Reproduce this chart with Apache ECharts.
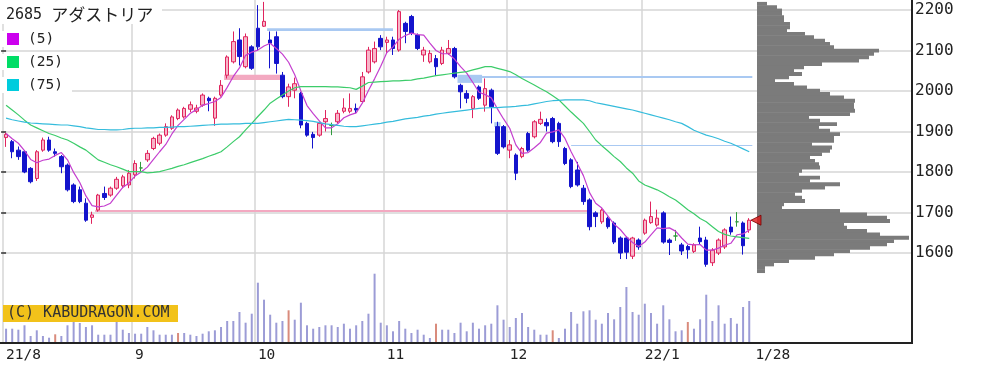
<!DOCTYPE html>
<html><head><meta charset="utf-8">
<script src="https://cdn.jsdelivr.net/npm/echarts@6/dist/echarts.min.js"></script>
<style>html,body{margin:0;padding:0;background:#fff}#c{width:981px;height:366px}</style>
</head><body><div id="c"></div><script>
// ---- trading days ----
const aug = [2,3,4,5,6,10,11,12,13,16,17,18,19,20,23,24,25,26,27,30,31];
const sep = [1,2,3,6,7,8,9,10,13,14,15,16,17,21,22,24,27,28,29,30];
const oct = [1,4,5,6,7,8,11,12,13,14,15,18,19,20,21,22,25,26,27,28,29];
const nov = [1,2,4,5,8,9,10,11,12,15,16,17,18,19,22,24,25,26,29,30];
const dec = [1,2,3,6,7,8,9,10,13,14,15,16,17,20,21,22,23,24,27,28,29,30];
const jan = [4,5,6,7,11,12,13,14,17,18,19,20,21,24,25,26,27,28];
const monthLabels = ['21/8','9','10','11','12','22/1'];
const endLabel = '1/28';

// ---- OHLC ----
const open = [1885,1875,1854,1850,1809,1784,1854,1879,1850,1838, 1817,1768,1756,1723,1688,1706,1747,1743,1760,1766, 1768,1793,1810,1830,1858,1871,1891,1908,1932,1936, 1955,1950,1965,1982,1933,1990,2039,2072,2126,2060, 2109,2155,2160,2126,2134,2039,1986,2002,1994,1920, 1893,1891,1924,1915,1924,1950,1950,1957,1974,2047, 2072,2130,2120,2126,2101,2167,2184,2138,2089,2072, 2080,2068,2093,2105,2014,1994,1957,2010,1965,2002, 1912,1912,1854,1842,1838,1895,1887,1920,1922,1932, 1920,1858,1830,1805,1760,1731,1699,1677,1686,1674, 1637,1637,1592,1632,1649,1675,1669,1699,1632,1642, 1620,1616,1604,1637,1632,1576,1600,1615,1664,1677, 1674,1657];
const close = [1893,1850,1838,1800,1776,1850,1879,1854,1846,1813, 1756,1727,1727,1681,1694,1743,1737,1760,1782,1788, 1797,1821,1810,1846,1883,1891,1912,1936,1953,1957, 1966,1958,1990,1976,1982,2014,2084,2122,2085,2134, 2056,2109,2172,2118,2068,1986,2010,2018,1916,1891, 1885,1920,1932,1915,1945,1958,1957,1953,2035,2101, 2105,2109,2126,2105,2196,2147,2142,2105,2101,2093, 2060,2101,2105,2035,1998,1982,1986,1982,2006,1961, 1846,1862,1867,1797,1858,1854,1924,1930,1914,1875, 1875,1821,1764,1768,1727,1665,1690,1706,1665,1627, 1600,1602,1637,1615,1681,1690,1686,1627,1626,1642, 1605,1608,1620,1628,1572,1607,1632,1657,1652,1677, 1618,1681];
const low = [1862,1834,1830,1797,1772,1778,1850,1850,1838,1797, 1752,1723,1723,1677,1672,1702,1731,1739,1756,1760, 1760,1784,1800,1825,1854,1866,1887,1904,1928,1932, 1948,1945,1961,1950,1914,1986,2031,2068,2063,2056, 2052,2100,2158,2056,2043,1982,1961,1982,1908,1887, 1858,1887,1900,1891,1920,1945,1945,1945,1970,2043, 2068,2101,2093,2089,2097,2118,2138,2101,2072,2068, 2039,2064,2089,2031,1957,1970,1933,1978,1949,1920, 1842,1858,1834,1780,1834,1850,1883,1916,1900,1871, 1862,1817,1760,1764,1719,1656,1664,1672,1660,1622, 1585,1585,1585,1608,1645,1672,1665,1623,1595,1630, 1595,1586,1600,1622,1566,1568,1595,1610,1645,1665, 1596,1650];
const high = [1897,1879,1863,1854,1812,1854,1885,1887,1858,1842, 1821,1772,1764,1735,1702,1746,1764,1764,1788,1793, 1805,1829,1825,1854,1887,1895,1920,1940,1957,1961, 1974,1966,1994,1986,1986,2027,2088,2147,2155,2142, 2113,2212,2220,2147,2147,2047,2018,2033,1998,1924, 1899,1924,1953,1922,1953,1982,1994,1969,2047,2109, 2122,2138,2134,2134,2200,2171,2188,2142,2109,2101, 2089,2109,2126,2109,2018,2002,1990,2014,2031,2006, 1924,1916,1879,1846,1862,1899,1928,1949,1932,1936, 1924,1862,1834,1825,1768,1735,1703,1710,1690,1678, 1641,1641,1640,1636,1685,1727,1707,1703,1636,1657, 1625,1620,1624,1665,1640,1612,1636,1661,1690,1701, 1678,1686];

// ---- moving averages ----
const ma5 = [1895,1882,1871,1853,1831,1823,1829,1832,1841,1848, 1830,1799,1774,1741,1717,1714,1716,1723,1743,1762, 1773,1790,1800,1812,1831,1850,1868,1894,1915,1930, 1945,1954,1965,1969,1974,1984,2009,2036,2057,2088, 2096,2101,2111,2118,2105,2091,2071,2040,2000,1964, 1944,1926,1909,1909,1919,1934,1941,1946,1970,2001, 2030,2061,2095,2109,2128,2137,2143,2139,2138,2118, 2100,2092,2092,2079,2060,2044,2021,1997,1991,1983, 1956,1931,1908,1867,1846,1848,1860,1873,1896,1899, 1904,1883,1850,1821,1791,1749,1723,1711,1691,1671, 1658,1640,1626,1616,1627,1645,1662,1660,1662,1654, 1637,1622,1620,1621,1607,1607,1612,1619,1624,1645, 1647,1657];
const ma25 = [1965,1953,1941,1928,1916,1909,1902,1895,1890,1884, 1879,1871,1862,1854,1842,1830,1824,1818,1813,1807, 1801,1801,1801,1798,1799,1801,1805,1809,1814,1818, 1823,1828,1833,1839,1844,1850,1862,1875,1887,1904, 1920,1937,1953,1970,1980,1990,2000,2008,2011,2011, 2011,2011,2011,2010,2010,2009,2008,2004,2012,2021, 2022,2023,2024,2025,2025,2026,2027,2030,2032,2035, 2038,2040,2042,2044,2046,2048,2052,2056,2060,2060, 2056,2052,2048,2040,2031,2023,2015,2006,1998,1988, 1978,1963,1948,1934,1920,1900,1879,1865,1852,1838, 1826,1810,1797,1778,1768,1762,1756,1748,1739,1731, 1719,1707,1697,1685,1677,1665,1653,1646,1642,1640, 1638,1636];
const ma75 = [1933,1929,1926,1923,1921,1920,1919,1918,1917,1916, 1916,1914,1912,1909,1907,1905,1905,1904,1904,1905, 1907,1908,1908,1909,1909,1910,1910,1911,1912,1912, 1913,1914,1915,1916,1917,1918,1918,1919,1919,1920, 1920,1920,1922,1924,1926,1928,1930,1929,1928,1927, 1925,1922,1919,1917,1915,1913,1912,1912,1914,1916, 1918,1920,1923,1925,1928,1931,1933,1935,1938,1940, 1943,1945,1947,1949,1951,1953,1955,1957,1958,1959, 1959,1960,1961,1962,1964,1965,1968,1971,1974,1976, 1977,1978,1978,1978,1978,1976,1971,1968,1965,1962, 1959,1956,1953,1949,1945,1941,1937,1933,1929,1924, 1920,1912,1903,1897,1891,1887,1882,1876,1871,1864, 1857,1850];

// ---- volume ----
const volume = [14300,14300,13300,17700,7000,12700,7000,5300,8700,7000, 17700,21000,20000,16000,17700,8300,8300,8300,21000,13300, 10000,9300,9300,16000,12700,8300,8300,8300,10000,10000, 8300,7000,9300,11700,12700,16000,22000,22000,31000,20300, 29300,60300,43300,28300,20300,22000,32700,23300,40300,17700, 14300,16000,17700,17700,16000,19300,14300,17700,22000,29300, 69300,20300,17700,11700,22000,14300,10000,13300,8300,5000, 19300,13300,13300,10000,20300,11700,20300,14300,17700,19300, 37700,23300,16000,25000,30000,16000,13300,8300,8300,12700, 5000,14300,31000,19300,31700,32700,23300,19300,30000,23700, 36000,56000,31000,28300,39300,30000,19300,37700,23700,11700, 12700,21000,14300,23700,48300,22000,37700,19300,25000,19300, 36000,42000];
const sqDays = [8,28,46,70,89,111];

// ---- price-band volume profile ----
const profileTop = 2220;
const profileStep = 8.25;
const profileVol = [10,20,25,25,27,27,33,33,30,48, 57,68,73,77,122,117,112,102,65,47, 37,45,32,18,37,50,63,73,87,98, 97,97,98,93,52,63,80,62,73,83, 77,77,55,75,73,65,53,58,62,63, 45,42,63,53,83,68,45,38,45,48, 27,25,83,110,130,133,87,90,110,123, 152,137,130,113,93,77,58,32,17,8, 8];

// ---- gap (window) zones: [fromIdx, toIdx, priceLow, priceHigh] ----
const gapUp = [[35.5,44.6,2027,2040],[14.5,95,1701,1706]];
const gapDown = [[42.5,63,2148,2155],[73.5,77.5,2020,2040],[77.5,121.5,2032,2037],[79.5,80.5,1911,1923],[92,121.5,1864,1866.5]];
const lastPrice = 1681;

// ---- build ----
const N_SLOTS = 148;
const months = [aug,sep,oct,nov,dec,jan];
const years = [2021,2021,2021,2021,2021,2022];
const mnums = [8,9,10,11,12,1];
const dates = [], monthStart = [];
months.forEach((days, j) => { monthStart.push(dates.length); days.forEach(d => dates.push(years[j]+'/'+mnums[j]+'/'+d)); });
const cats = dates.concat(Array.from({length: N_SLOTS - dates.length}, (_, k) => 'e' + k));
const labelMap = {};
monthStart.forEach((s, j) => labelMap[s] = monthLabels[j]);
labelMap[dates.length] = endLabel;
const msSet = new Set(monthStart);

const DOJI = '#2f9a3c';
const candleData = open.map((o, i) => {
  const v = [o, close[i], low[i], high[i]];
  return o === close[i] ? {value: v, itemStyle: {color: DOJI, color0: DOJI, borderColor: DOJI, borderColor0: DOJI}} : v;
});
const sq = new Set(sqDays);
const volData = volume.map((v, i) => ({value: v, itemStyle: {color: sq.has(i) ? '#d98b7c' : '#9c9cd6'}}));
const profData = profileVol.map((v, k) => [v, profileTop - k * profileStep, profileTop - (k + 1) * profileStep]);

const GRID = '#d6d6d6';
const monoFont = 'DejaVu Sans Mono';

function zoneRender(color) {
  return function (params, api) {
    const p0 = api.coord([api.value(0), api.value(3)]);
    const p1 = api.coord([api.value(1), api.value(2)]);
    return {type: 'rect', shape: {x: p0[0], y: p0[1], width: p1[0] - p0[0], height: Math.max(1, p1[1] - p0[1])}, style: {fill: color}};
  };
}

const chart = echarts.init(document.getElementById('c'), null, {renderer: 'canvas'});
chart.setOption({
  animation: false,
  backgroundColor: '#ffffff',
  grid: [
    {left: 3, right: 69, top: 0, bottom: 23},
    {left: 3, right: 69, top: 10, height: 243},
    {left: 3, right: 69, bottom: 23, height: 100},
    {left: 757, right: 69, top: 10, height: 243}
  ],
  xAxis: [
    {gridIndex: 0, type: 'category', data: cats, boundaryGap: true,
     axisLine: {show: false}, axisTick: {show: false},
     axisLabel: {interval: (i) => labelMap[i] !== undefined, formatter: (v, i) => labelMap[i] || '',
                 align: 'left', margin: 5, fontFamily: monoFont, fontSize: 14.5, color: '#222'},
     splitLine: {show: true, interval: (i) => msSet.has(i), lineStyle: {color: GRID, width: 1.5}}},
    {gridIndex: 1, type: 'category', data: cats, show: false},
    {gridIndex: 1, type: 'value', min: -0.5, max: N_SLOTS - 0.5, show: false},
    {gridIndex: 2, type: 'category', data: cats, show: false},
    {gridIndex: 3, type: 'value', min: 0, max: 155, show: false}
  ],
  yAxis: [
    {gridIndex: 0, type: 'value', show: false},
    {gridIndex: 1, type: 'value', position: 'right', min: 1600, max: 2200, interval: 100,
     axisLine: {show: false},
     axisTick: {show: true, inside: true, length: 5, lineStyle: {color: '#333', width: 1.5}},
     axisLabel: {margin: 3, fontFamily: monoFont, fontSize: 16, color: '#222', formatter: (v) => String(v)},
     splitLine: {show: true, lineStyle: {color: GRID, width: 1.5}}},
    {gridIndex: 2, type: 'value', min: 0, max: 100000, show: false},
    {gridIndex: 3, type: 'value', min: 1600, max: 2200, show: false}
  ],
  series: [
    {type: 'custom', name: 'gapUp', xAxisIndex: 2, yAxisIndex: 1, data: gapUp, encode: {x: [0, 1], y: [2, 3]},
     renderItem: zoneRender('#f3a9c1'), z: 1, silent: true},
    {type: 'custom', name: 'gapDown', xAxisIndex: 2, yAxisIndex: 1, data: gapDown, encode: {x: [0, 1], y: [2, 3]},
     renderItem: zoneRender('#a9c9f2'), z: 1, silent: true},
    {type: 'custom', name: 'profile', xAxisIndex: 4, yAxisIndex: 3, data: profData, encode: {x: 0, y: [1, 2]},
     renderItem: function (params, api) {
       const p0 = api.coord([0, api.value(1)]);
       const p1 = api.coord([api.value(0), api.value(2)]);
       return {type: 'rect', shape: {x: p0[0], y: p0[1], width: p1[0] - p0[0], height: p1[1] - p0[1] + 0.5}, style: {fill: '#7b7b7b'}};
     }, z: 2, silent: true},
    {type: 'candlestick', name: 'price', xAxisIndex: 1, yAxisIndex: 1, data: candleData, barWidth: 4, clip: false,
     itemStyle: {color: '#f7b5c8', color0: '#1414cc', borderColor: '#e0245e', borderColor0: '#1414cc', borderWidth: 1},
     z: 3, silent: true},
    {type: 'line', name: '(5)', xAxisIndex: 1, yAxisIndex: 1, data: ma5, symbol: 'none', lineStyle: {color: '#c43fcf', width: 1.2}, z: 4, silent: true},
    {type: 'line', name: '(25)', xAxisIndex: 1, yAxisIndex: 1, data: ma25, symbol: 'none', lineStyle: {color: '#3ccc6a', width: 1.2}, z: 4, silent: true},
    {type: 'line', name: '(75)', xAxisIndex: 1, yAxisIndex: 1, data: ma75, symbol: 'none', lineStyle: {color: '#35bcdc', width: 1.2}, z: 4, silent: true},
    {type: 'scatter', name: 'last', xAxisIndex: 2, yAxisIndex: 1, data: [[dates.length + 0.1, lastPrice]],
     symbol: 'triangle', symbolSize: 10, symbolRotate: 90,
     itemStyle: {color: '#e01818', borderColor: '#700', borderWidth: 1}, z: 5, silent: true},
    {type: 'bar', name: 'volume', xAxisIndex: 3, yAxisIndex: 2, data: volData, barWidth: 2, z: 3, silent: true}
  ],
  graphic: [
    {type: 'line', shape: {x1: 0, y1: 343, x2: 913, y2: 343}, style: {stroke: '#222', lineWidth: 2}, z: 50},
    {type: 'line', shape: {x1: 912, y1: 0, x2: 912, y2: 344}, style: {stroke: '#222', lineWidth: 2}, z: 50},
    {type: 'rect', shape: {x: 0, y: 0, width: 162, height: 24}, style: {fill: '#fff'}, z: 60},
    {type: 'text', x: 6, y: 15, z: 61, style: {text: '{a|2685 }{b|アダストリア}', verticalAlign: 'middle',
      rich: {a: {fontFamily: monoFont, fontSize: 15, fill: '#222'}, b: {fontFamily: 'Noto Sans CJK JP', fontSize: 17, fill: '#222'}}}},
    {type: 'rect', shape: {x: 0, y: 31, width: 72, height: 16}, style: {fill: '#fff'}, z: 60},
    {type: 'rect', shape: {x: 0, y: 54, width: 72, height: 16}, style: {fill: '#fff'}, z: 60},
    {type: 'rect', shape: {x: 0, y: 77, width: 72, height: 16}, style: {fill: '#fff'}, z: 60},
    {type: 'rect', shape: {x: 7, y: 33, width: 12, height: 12}, style: {fill: '#cc00ee'}, z: 61},
    {type: 'rect', shape: {x: 7, y: 56, width: 12, height: 12}, style: {fill: '#00dd66'}, z: 61},
    {type: 'rect', shape: {x: 7, y: 79, width: 12, height: 12}, style: {fill: '#00ccdd'}, z: 61},
    {type: 'text', x: 28, y: 39, z: 61, style: {text: '(5)', fontFamily: monoFont, fontSize: 14.5, fill: '#222', verticalAlign: 'middle'}},
    {type: 'text', x: 28, y: 62, z: 61, style: {text: '(25)', fontFamily: monoFont, fontSize: 14.5, fill: '#222', verticalAlign: 'middle'}},
    {type: 'text', x: 28, y: 85, z: 61, style: {text: '(75)', fontFamily: monoFont, fontSize: 14.5, fill: '#222', verticalAlign: 'middle'}},
    {type: 'rect', shape: {x: 3, y: 305, width: 175, height: 17}, style: {fill: '#f2c21a'}, z: 60},
    {type: 'text', x: 7, y: 313.5, z: 61, style: {text: '(C) KABUDRAGON.COM', fontFamily: monoFont, fontSize: 15, fill: '#333', verticalAlign: 'middle'}}
  ]
});
</script></body></html>
